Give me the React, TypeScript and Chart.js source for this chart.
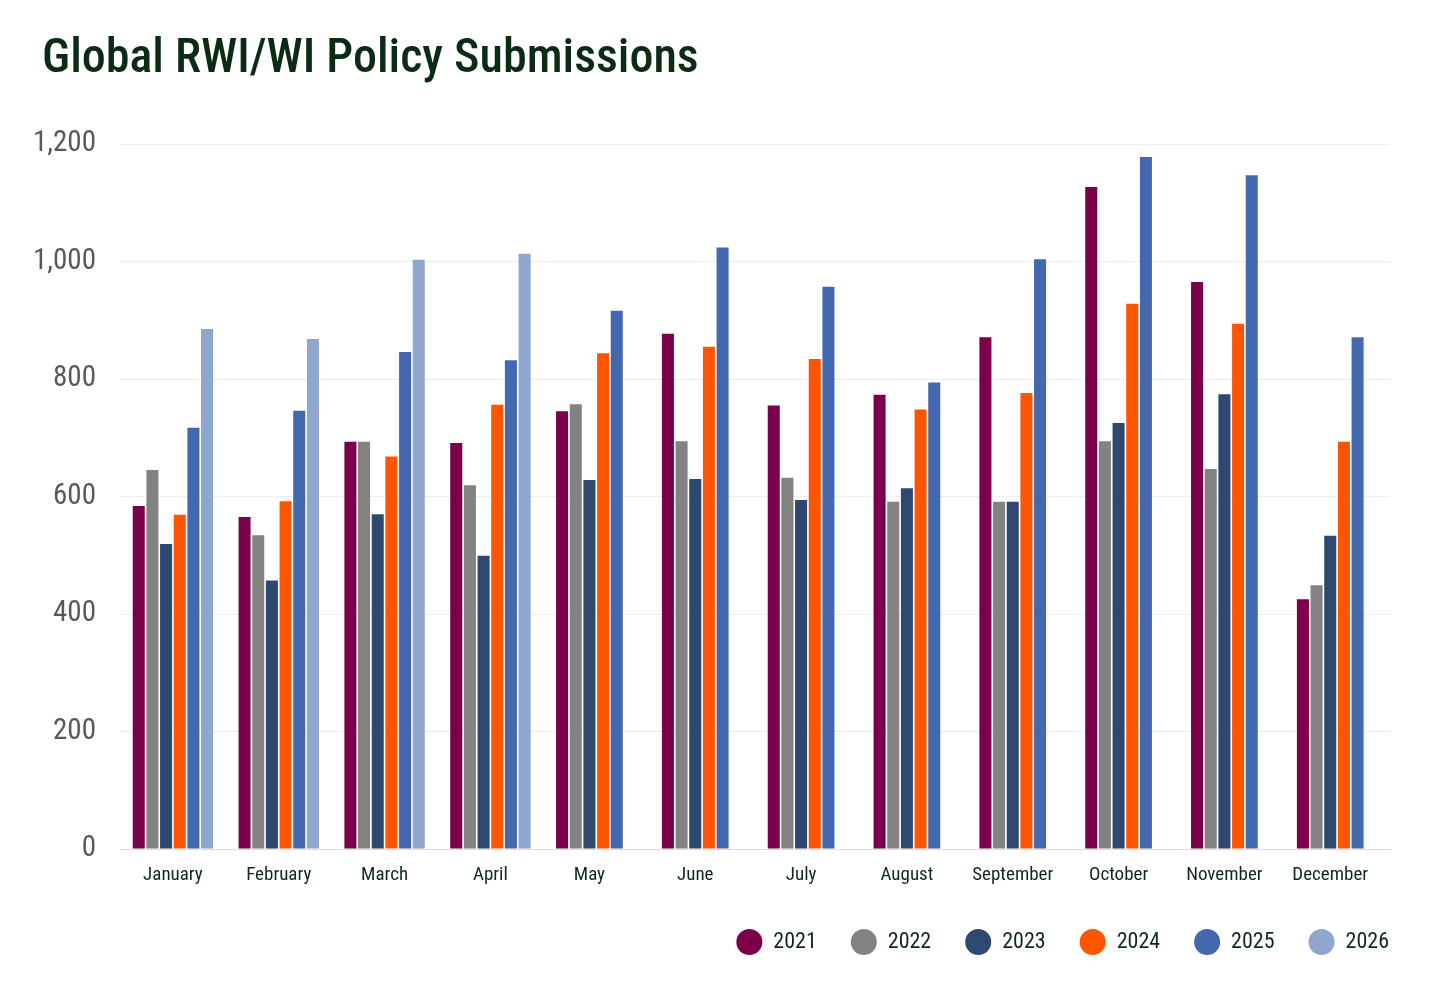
import React, { useEffect, useRef } from "react";
import { Chart, registerables } from "chart.js";

Chart.register(...registerables);

const titleText = "Global RWI/WI Policy Submissions";
const months = [
  "January", "February", "March", "April", "May", "June",
  "July", "August", "September", "October", "November", "December",
];
const seriesYears = ["2021", "2022", "2023", "2024", "2025", "2026"];
const v2021 = [584, 565, 693, 691, 745, 877, 755, 773, 871, 1127, 965, 425];
const v2022 = [645, 534, 693, 619, 757, 694, 632, 591, 591, 694, 647, 449];
const v2023 = [519, 457, 570, 499, 628, 630, 594, 614, 591, 725, 774, 533];
const v2024 = [569, 592, 668, 756, 844, 855, 834, 748, 776, 928, 894, 693];
const v2025 = [717, 746, 846, 832, 916, 1024, 957, 794, 1004, 1178, 1147, 871];
const v2026 = [885, 868, 1003, 1013, null, null, null, null, null, null, null, null];
const seriesColors = ["#7a0049", "#828282", "#2f4870", "#ff5500", "#4368ae", "#8fa6cf"];
const yTicks = [0, 200, 400, 600, 800, 1000, 1200];

const FONT = "'Roboto Condensed', 'Open Sans', sans-serif";
const LABEL_COLOR = "#0f2a1a";

// Draws month labels centred under the bars that are actually present in each group
const groupLabels = {
  id: "groupLabels",
  afterDraw(chart: any) {
    const ctx = chart.ctx;
    const xScale = chart.scales.x;
    const labels: string[] = chart.data.labels;
    ctx.save();
    ctx.font = `19px ${FONT}`;
    ctx.fillStyle = LABEL_COLOR;
    ctx.textAlign = "center";
    ctx.textBaseline = "alphabetic";
    labels.forEach((lab, i) => {
      let minX = Infinity;
      let maxX = -Infinity;
      chart.data.datasets.forEach((ds: any, d: number) => {
        const v = ds.data[i];
        if (v === null || v === undefined) return;
        const el = chart.getDatasetMeta(d).data[i];
        if (!el) return;
        minX = Math.min(minX, el.x);
        maxX = Math.max(maxX, el.x);
      });
      const cx = isFinite(minX) ? (minX + maxX) / 2 : xScale.getPixelForValue(i);
      ctx.fillText(lab, cx, xScale.top + 31);
    });
    ctx.restore();
  },
};

export default function App() {
  const ref = useRef<HTMLCanvasElement | null>(null);

  useEffect(() => {
    document.body.style.margin = "0";
    const canvas = ref.current;
    if (!canvas) return;
    const values = [v2021, v2022, v2023, v2024, v2025, v2026];
    const chart = new Chart(canvas, {
      type: "bar",
      data: {
        labels: months,
        datasets: seriesYears.map((y, i) => ({
          label: y,
          data: values[i],
          backgroundColor: seriesColors[i],
          borderWidth: 0,
          barPercentage: 0.88,
          categoryPercentage: 0.775,
        })),
      },
      plugins: [groupLabels],
      options: {
        responsive: false,
        animation: false,
        devicePixelRatio: 1,
        layout: { padding: { left: 0, right: 11, top: 144, bottom: 37 } },
        plugins: {
          title: { display: false },
          legend: {
            position: "bottom",
            align: "end",
            labels: {
              usePointStyle: true,
              pointStyle: "circle",
              pointStyleWidth: 26,
              boxHeight: 18.4,
              padding: 34,
              color: LABEL_COLOR,
              font: { family: FONT, size: 22 },
            },
          },
          tooltip: { enabled: false },
        },
        scales: {
          x: {
            grid: { display: false },
            border: { display: true, color: "#dedede", width: 1 },
            ticks: { display: false },
            afterFit: (s: any) => { s.height = 48; },
          },
          y: {
            min: 0,
            max: 1200,
            afterBuildTicks: (s: any) => { s.ticks = yTicks.map((v) => ({ value: v })); },
            grid: {
              drawTicks: false,
              color: (c: any) => (c.tick && c.tick.value === 0 ? "#dedede" : "#eeeeee"),
              lineWidth: 1,
            },
            border: { display: false },
            ticks: {
              color: "#595959",
              font: { family: FONT, size: 29 },
              padding: 24,
            },
            afterFit: (s: any) => { s.width = 120; },
          },
          yRight: {
            position: "right",
            display: true,
            grid: { display: false },
            border: { display: false },
            ticks: { display: false },
            afterFit: (s: any) => { s.width = 33; },
          },
        },
      },
    } as any);
    return () => chart.destroy();
  }, []);

  return (
    <div style={{ position: "relative", width: 1434, height: 1000, background: "#ffffff" }}>
      <div
        style={{
          position: "absolute",
          left: 42,
          top: 32,
          fontFamily: FONT,
          fontSize: 48,
          fontWeight: 500,
          lineHeight: 1,
          color: "#0b2b14",
          whiteSpace: "nowrap",
        }}
      >
        {titleText}
      </div>
      <canvas ref={ref} width={1434} height={1000} style={{ display: "block" }} />
    </div>
  );
}
